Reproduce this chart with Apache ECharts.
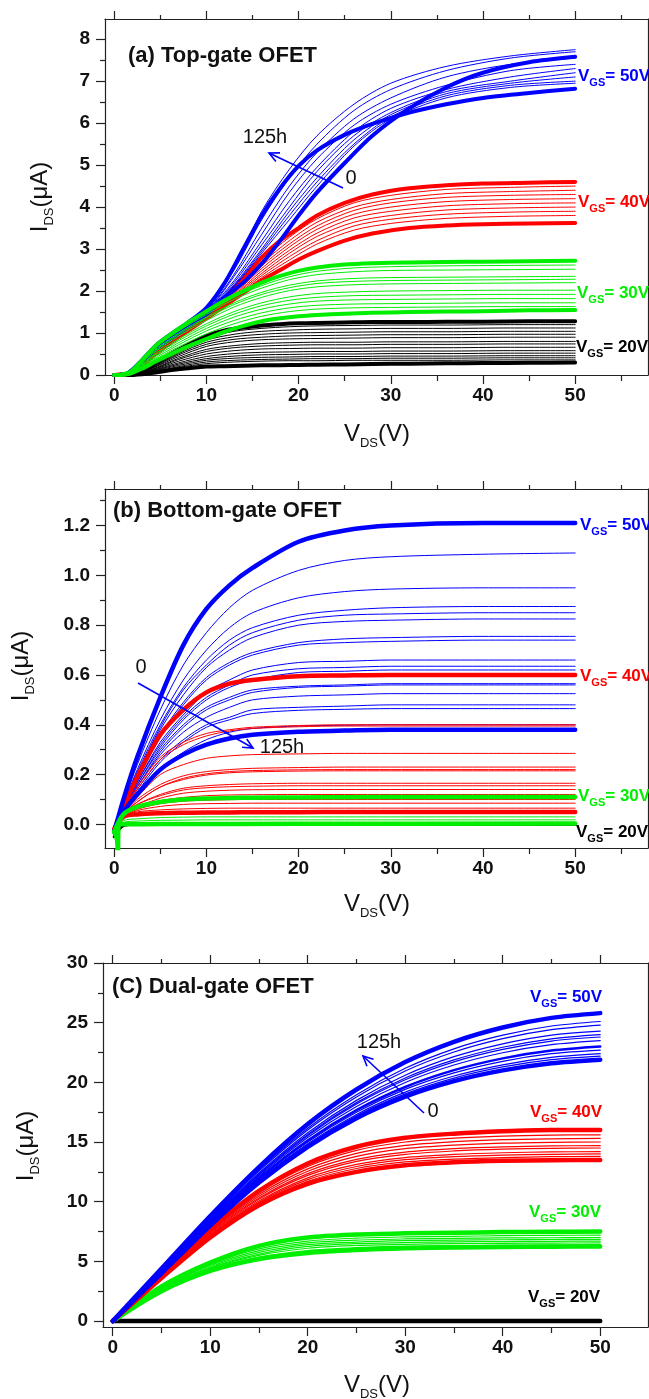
<!DOCTYPE html>
<html>
<head>
<meta charset="utf-8">
<title>OFET output characteristics</title>
<script src="https://cdn.jsdelivr.net/npm/echarts@6/dist/echarts.min.js"></script>
<style>
  html, body { margin: 0; padding: 0; background: #fff; }
  #chart { width: 649px; height: 1399px; }
</style>
</head>
<body>
<div id="chart"></div>
<script>
// ---------- shared ticks ----------
var xTickLabels = [0, 10, 20, 30, 40, 50];
var xMinorTicks = [5, 15, 25, 35, 45, 55];

// ---------- (a) Top-gate OFET ----------
var aYTicks = [0, 1, 2, 3, 4, 5, 6, 7, 8];
var aYMinor = [0.5, 1.5, 2.5, 3.5, 4.5, 5.5, 6.5, 7.5];
var aX = [0, 1.5, 3, 4.5, 6, 8, 10, 12, 14, 16, 18, 20, 22, 25, 28, 32, 36, 40, 45, 50];
var aXThin = [0, 2, 4, 7, 10, 13, 16, 19, 22, 26, 30, 36, 43, 50];
var aBlueThick = [
  [0, 0.05, 0.35, 0.7, 0.95, 1.25, 1.6, 2.2, 3.0, 3.8, 4.45, 4.98, 5.35, 5.72, 5.98, 6.25, 6.45, 6.6, 6.72, 6.82], // 125h
  [0, 0.04, 0.3, 0.62, 0.85, 1.15, 1.45, 1.85, 2.2, 2.65, 3.2, 3.8, 4.35, 5.05, 5.7, 6.35, 6.85, 7.2, 7.45, 7.58]   // 0h
];
var aBlueThin = [
  [0, 0.1, 0.55, 1.1, 1.55, 2.55, 3.9, 4.9, 5.7, 6.45, 6.95, 7.35, 7.6, 7.75],
  [0, 0.1, 0.55, 1.1, 1.55, 2.5, 3.7, 4.7, 5.5, 6.3, 6.8, 7.25, 7.55, 7.7],
  [0, 0.1, 0.54, 1.08, 1.52, 2.4, 3.5, 4.5, 5.3, 6.1, 6.6, 7.1, 7.4, 7.55],
  [0, 0.1, 0.54, 1.07, 1.5, 2.35, 3.35, 4.35, 5.15, 5.95, 6.45, 6.9, 7.25, 7.4],
  [0, 0.09, 0.53, 1.06, 1.5, 2.25, 3.2, 4.15, 4.95, 5.8, 6.35, 6.8, 7.1, 7.3],
  [0, 0.09, 0.52, 1.05, 1.48, 2.2, 3.1, 4.0, 4.85, 5.7, 6.25, 6.75, 7.0, 7.2],
  [0, 0.09, 0.52, 1.04, 1.47, 2.15, 3.0, 3.9, 4.7, 5.6, 6.2, 6.7, 6.95, 7.1],
  [0, 0.08, 0.5, 1.03, 1.46, 2.12, 2.95, 3.8, 4.6, 5.5, 6.15, 6.65, 6.9, 7.0],
  [0, 0.08, 0.5, 1.02, 1.45, 2.1, 2.9, 3.7, 4.5, 5.45, 6.1, 6.6, 6.85, 6.95]
];
var aRedThick = [
  [0, 0.03, 0.25, 0.55, 0.8, 1.1, 1.45, 1.85, 2.3, 2.8, 3.2, 3.5, 3.8, 4.1, 4.3, 4.45, 4.52, 4.56, 4.58, 4.6],
  [0, 0.03, 0.22, 0.5, 0.75, 1.05, 1.35, 1.65, 1.95, 2.25, 2.5, 2.75, 2.95, 3.2, 3.37, 3.5, 3.56, 3.59, 3.61, 3.62]
];
var aRedThin = [
  [0, 0.08, 0.44, 0.95, 1.44, 2.0, 2.72, 3.28, 3.72, 4.1, 4.28, 4.42, 4.47, 4.5],
  [0, 0.08, 0.44, 0.94, 1.43, 1.98, 2.65, 3.2, 3.64, 4.0, 4.18, 4.32, 4.37, 4.4],
  [0, 0.08, 0.43, 0.94, 1.42, 1.96, 2.6, 3.12, 3.55, 3.92, 4.1, 4.23, 4.28, 4.3],
  [0, 0.08, 0.43, 0.93, 1.41, 1.93, 2.54, 3.05, 3.47, 3.83, 4.0, 4.13, 4.18, 4.2],
  [0, 0.07, 0.42, 0.92, 1.4, 1.9, 2.48, 2.97, 3.38, 3.74, 3.9, 4.03, 4.08, 4.1],
  [0, 0.07, 0.42, 0.92, 1.39, 1.88, 2.42, 2.9, 3.3, 3.64, 3.8, 3.93, 3.98, 4.0],
  [0, 0.07, 0.41, 0.91, 1.38, 1.85, 2.37, 2.82, 3.2, 3.55, 3.71, 3.83, 3.88, 3.9],
  [0, 0.07, 0.41, 0.91, 1.37, 1.83, 2.32, 2.74, 3.12, 3.45, 3.61, 3.73, 3.78, 3.8]
];
var aGreenThick = [
  [0, 0.04, 0.35, 0.7, 0.95, 1.25, 1.52, 1.78, 2.0, 2.2, 2.36, 2.48, 2.56, 2.63, 2.66, 2.68, 2.69, 2.7, 2.71, 2.72],
  [0, 0.02, 0.15, 0.32, 0.48, 0.68, 0.86, 1.03, 1.17, 1.28, 1.35, 1.4, 1.43, 1.46, 1.48, 1.5, 1.51, 1.52, 1.54, 1.55]
];
var aGreenThin = [
  [0, 0.14, 0.6, 1.08, 1.48, 1.85, 2.13, 2.34, 2.47, 2.55, 2.58, 2.6, 2.61, 2.62],
  [0, 0.13, 0.57, 1.05, 1.44, 1.8, 2.07, 2.27, 2.39, 2.46, 2.49, 2.5, 2.51, 2.52],
  [0, 0.12, 0.53, 1.0, 1.38, 1.72, 1.97, 2.14, 2.24, 2.3, 2.32, 2.33, 2.34, 2.35],
  [0, 0.12, 0.51, 0.97, 1.35, 1.68, 1.92, 2.08, 2.18, 2.23, 2.25, 2.26, 2.27, 2.28],
  [0, 0.11, 0.48, 0.93, 1.3, 1.62, 1.85, 2.01, 2.1, 2.15, 2.17, 2.18, 2.19, 2.2],
  [0, 0.1, 0.44, 0.86, 1.22, 1.51, 1.72, 1.86, 1.94, 1.98, 2.0, 2.01, 2.02, 2.02],
  [0, 0.09, 0.41, 0.82, 1.17, 1.45, 1.65, 1.78, 1.85, 1.89, 1.9, 1.91, 1.92, 1.92],
  [0, 0.08, 0.38, 0.77, 1.11, 1.38, 1.57, 1.69, 1.76, 1.79, 1.8, 1.81, 1.82, 1.82],
  [0, 0.08, 0.35, 0.72, 1.05, 1.3, 1.48, 1.6, 1.66, 1.69, 1.7, 1.71, 1.72, 1.72],
  [0, 0.07, 0.32, 0.67, 0.98, 1.22, 1.4, 1.51, 1.57, 1.6, 1.61, 1.62, 1.63, 1.63]
];
var aBlackThick = [
  [0, 0.01, 0.08, 0.28, 0.48, 0.72, 0.93, 1.06, 1.13, 1.18, 1.21, 1.23, 1.24, 1.25, 1.26, 1.26, 1.27, 1.27, 1.28, 1.28],
  [0, 0, 0.02, 0.06, 0.11, 0.16, 0.2, 0.21, 0.22, 0.23, 0.235, 0.24, 0.245, 0.25, 0.26, 0.27, 0.28, 0.285, 0.29, 0.3]
];
var aBlackThin = [
  [0, 0.02, 0.19, 0.57, 0.88, 1.04, 1.11, 1.15, 1.17, 1.18, 1.19, 1.19, 1.2, 1.2],
  [0, 0.02, 0.18, 0.54, 0.83, 0.97, 1.04, 1.07, 1.09, 1.1, 1.11, 1.11, 1.12, 1.12],
  [0, 0.02, 0.17, 0.51, 0.78, 0.91, 0.97, 1.0, 1.01, 1.02, 1.03, 1.03, 1.04, 1.04],
  [0, 0.02, 0.16, 0.48, 0.73, 0.85, 0.9, 0.93, 0.94, 0.95, 0.96, 0.96, 0.97, 0.97],
  [0, 0.01, 0.15, 0.44, 0.68, 0.79, 0.84, 0.86, 0.87, 0.88, 0.89, 0.89, 0.9, 0.9],
  [0, 0.01, 0.13, 0.4, 0.61, 0.7, 0.75, 0.77, 0.78, 0.78, 0.79, 0.79, 0.8, 0.8],
  [0, 0.01, 0.12, 0.37, 0.56, 0.65, 0.69, 0.71, 0.72, 0.72, 0.73, 0.73, 0.74, 0.74],
  [0, 0.01, 0.11, 0.33, 0.5, 0.58, 0.62, 0.63, 0.64, 0.64, 0.65, 0.65, 0.66, 0.66],
  [0, 0.01, 0.1, 0.29, 0.44, 0.51, 0.54, 0.55, 0.56, 0.56, 0.57, 0.57, 0.58, 0.58],
  [0, 0.01, 0.09, 0.26, 0.39, 0.45, 0.48, 0.49, 0.5, 0.5, 0.51, 0.51, 0.52, 0.52],
  [0, 0.01, 0.08, 0.23, 0.35, 0.4, 0.42, 0.43, 0.44, 0.44, 0.45, 0.45, 0.46, 0.46],
  [0, 0.01, 0.07, 0.2, 0.31, 0.35, 0.37, 0.38, 0.39, 0.39, 0.4, 0.4, 0.41, 0.41],
  [0, 0, 0.06, 0.18, 0.27, 0.31, 0.33, 0.34, 0.34, 0.35, 0.35, 0.35, 0.36, 0.36]
];

// ---------- (b) Bottom-gate OFET ----------
var bYTicks = [0, 0.2, 0.4, 0.6, 0.8, 1.0, 1.2];
var bYMinor = [0.1, 0.3, 0.5, 0.7, 0.9, 1.1, 1.3];
var bX = [0, 1, 2.5, 5, 7.5, 10, 12.5, 15, 20, 25, 30, 40, 50];
var bBlueThick = [
  [-0.03, 0.1, 0.27, 0.51, 0.72, 0.865, 0.96, 1.03, 1.135, 1.18, 1.2, 1.21, 1.21],
  [-0.03, 0.05, 0.12, 0.22, 0.28, 0.32, 0.345, 0.36, 0.372, 0.377, 0.38, 0.38, 0.38]
];
var bBlueThin = [
  [-0.02, 0.09, 0.24, 0.46, 0.64, 0.77, 0.87, 0.94, 1.02, 1.06, 1.075, 1.085, 1.09],
  [-0.02, 0.08, 0.22, 0.42, 0.58, 0.7, 0.79, 0.85, 0.91, 0.935, 0.945, 0.95, 0.95],
  [-0.02, 0.08, 0.21, 0.4, 0.55, 0.66, 0.74, 0.79, 0.84, 0.86, 0.87, 0.875, 0.875],
  [-0.02, 0.08, 0.2, 0.39, 0.54, 0.64, 0.72, 0.77, 0.82, 0.84, 0.845, 0.85, 0.85],
  [-0.02, 0.07, 0.2, 0.38, 0.52, 0.63, 0.7, 0.75, 0.8, 0.815, 0.82, 0.825, 0.825],
  [-0.02, 0.07, 0.19, 0.36, 0.49, 0.59, 0.65, 0.69, 0.73, 0.745, 0.75, 0.755, 0.755],
  [-0.02, 0.07, 0.18, 0.35, 0.48, 0.58, 0.64, 0.68, 0.72, 0.73, 0.735, 0.74, 0.74],
  [-0.02, 0.07, 0.17, 0.33, 0.44, 0.53, 0.58, 0.62, 0.65, 0.655, 0.66, 0.66, 0.66],
  [-0.02, 0.06, 0.17, 0.32, 0.43, 0.51, 0.56, 0.6, 0.625, 0.63, 0.635, 0.635, 0.635],
  [-0.02, 0.06, 0.16, 0.31, 0.42, 0.5, 0.55, 0.58, 0.61, 0.615, 0.62, 0.62, 0.62],
  [-0.02, 0.06, 0.16, 0.3, 0.4, 0.47, 0.51, 0.54, 0.555, 0.56, 0.565, 0.565, 0.565],
  [-0.02, 0.06, 0.15, 0.29, 0.39, 0.46, 0.5, 0.53, 0.55, 0.555, 0.56, 0.56, 0.56],
  [-0.02, 0.06, 0.15, 0.28, 0.37, 0.43, 0.47, 0.5, 0.515, 0.52, 0.525, 0.525, 0.525],
  [-0.02, 0.05, 0.14, 0.26, 0.34, 0.4, 0.43, 0.46, 0.47, 0.475, 0.48, 0.48, 0.48],
  [-0.02, 0.05, 0.13, 0.25, 0.33, 0.39, 0.42, 0.445, 0.458, 0.462, 0.465, 0.465, 0.465],
  [-0.02, 0.05, 0.12, 0.22, 0.29, 0.34, 0.37, 0.385, 0.395, 0.398, 0.4, 0.4, 0.4]
];
var bRedThick = [
  [-0.02, 0.07, 0.19, 0.36, 0.46, 0.53, 0.565, 0.58, 0.595, 0.598, 0.6, 0.6, 0.6],
  [-0.02, 0.03, 0.04, 0.045, 0.047, 0.048, 0.048, 0.049, 0.049, 0.05, 0.05, 0.05, 0.05]
];
var bRedThin = [
  [-0.02, 0.06, 0.15, 0.27, 0.33, 0.365, 0.38, 0.39, 0.397, 0.4, 0.4, 0.4, 0.4],
  [-0.02, 0.06, 0.14, 0.26, 0.32, 0.355, 0.375, 0.385, 0.392, 0.395, 0.395, 0.395, 0.395],
  [-0.02, 0.05, 0.11, 0.2, 0.24, 0.265, 0.275, 0.28, 0.283, 0.285, 0.285, 0.285, 0.285],
  [-0.02, 0.04, 0.1, 0.16, 0.195, 0.212, 0.22, 0.225, 0.228, 0.23, 0.23, 0.23, 0.23],
  [-0.02, 0.04, 0.09, 0.15, 0.185, 0.203, 0.212, 0.216, 0.219, 0.22, 0.22, 0.22, 0.22],
  [-0.02, 0.04, 0.09, 0.15, 0.18, 0.198, 0.207, 0.211, 0.214, 0.215, 0.215, 0.215, 0.215],
  [-0.02, 0.04, 0.08, 0.12, 0.145, 0.155, 0.16, 0.163, 0.165, 0.165, 0.165, 0.165, 0.165],
  [-0.02, 0.04, 0.08, 0.115, 0.138, 0.147, 0.151, 0.153, 0.155, 0.155, 0.155, 0.155, 0.155],
  [-0.02, 0.04, 0.07, 0.105, 0.125, 0.133, 0.137, 0.139, 0.14, 0.14, 0.14, 0.14, 0.14],
  [-0.02, 0.03, 0.07, 0.095, 0.108, 0.115, 0.118, 0.119, 0.12, 0.12, 0.12, 0.12, 0.12],
  [-0.02, 0.03, 0.06, 0.083, 0.093, 0.097, 0.099, 0.1, 0.1, 0.1, 0.1, 0.1, 0.1],
  [-0.02, 0.03, 0.055, 0.072, 0.08, 0.083, 0.084, 0.085, 0.085, 0.085, 0.085, 0.085, 0.085],
  [-0.02, 0.03, 0.05, 0.058, 0.062, 0.064, 0.065, 0.065, 0.065, 0.065, 0.065, 0.065, 0.065]
];
var bGreenThick = [
  [-0.03, 0.04, 0.07, 0.09, 0.1, 0.104, 0.106, 0.107, 0.108, 0.109, 0.11, 0.11, 0.11]
];
var bGreenThin = [
  [-0.02, 0.015, 0.022, 0.027, 0.029, 0.03, 0.03, 0.03, 0.03, 0.03, 0.03, 0.03, 0.03],
  [-0.02, 0.008, 0.013, 0.016, 0.017, 0.018, 0.018, 0.018, 0.018, 0.018, 0.018, 0.018, 0.018]
];
var bGreenLowX = [0, 0.3, 0.4, 0.5, 1, 5, 20, 50];
var bGreenLow = [-0.03, -0.06, -0.12, 0.0, 0.0, 0.001, 0.002, 0.003];
var bBlack = [-0.05, -0.005, 0, 0, 0, 0, 0, 0, 0, 0, 0, 0, 0];

// ---------- (c) Dual-gate OFET ----------
var cYTicks = [0, 5, 10, 15, 20, 25, 30];
var cYMinor = [2.5, 7.5, 12.5, 17.5, 22.5, 27.5];
var cX = [0, 5, 10, 15, 20, 25, 30, 35, 40, 45, 50];
var cBlueThick = [
  [0, 4.4, 8.8, 12.9, 16.5, 19.4, 21.7, 23.4, 24.6, 25.4, 25.8],
  [0, 4.0, 8.0, 11.6, 14.6, 17.0, 18.8, 20.1, 21.0, 21.6, 21.9]
];
var cBlueMid = [
  [0, 4.11, 8.22, 11.96, 15.13, 17.67, 19.61, 21.02, 22.01, 22.66, 23.0]
];
var cBlueThin = [
  [0, 4.33, 8.66, 12.67, 16.16, 18.97, 21.18, 22.81, 23.95, 24.72, 25.1],
  [0, 4.3, 8.59, 12.56, 16.01, 18.78, 20.95, 22.54, 23.66, 24.41, 24.8],
  [0, 4.25, 8.5, 12.4, 15.78, 18.49, 20.6, 22.15, 23.23, 23.96, 24.3],
  [0, 4.22, 8.43, 12.3, 15.63, 18.3, 20.37, 21.88, 22.94, 23.65, 24.0],
  [0, 4.2, 8.39, 12.24, 15.53, 18.18, 20.22, 21.72, 22.76, 23.46, 23.8],
  [0, 4.16, 8.33, 12.13, 15.38, 17.98, 19.99, 21.45, 22.48, 23.16, 23.5],
  [0, 4.08, 8.17, 11.87, 15.0, 17.5, 19.41, 20.79, 21.76, 22.4, 22.7],
  [0, 4.05, 8.1, 11.77, 14.85, 17.31, 19.18, 20.53, 21.47, 22.09, 22.4],
  [0, 4.03, 8.06, 11.7, 14.75, 17.19, 19.03, 20.36, 21.29, 21.9, 22.2]
];
var cRedThick = [
  [0, 3.9, 7.7, 10.9, 13.2, 14.6, 15.35, 15.7, 15.9, 16.0, 16.0],
  [0, 3.6, 7.0, 9.7, 11.5, 12.5, 13.05, 13.3, 13.42, 13.47, 13.5]
];
var cRedThin = [
  [0, 3.85, 7.62, 10.75, 12.95, 14.3, 15.0, 15.32, 15.5, 15.58, 15.6],
  [0, 3.8, 7.55, 10.6, 12.75, 14.05, 14.72, 15.03, 15.2, 15.27, 15.3],
  [0, 3.78, 7.48, 10.45, 12.55, 13.8, 14.44, 14.74, 14.9, 14.97, 15.0],
  [0, 3.75, 7.4, 10.3, 12.35, 13.55, 14.16, 14.45, 14.6, 14.67, 14.7],
  [0, 3.72, 7.33, 10.2, 12.2, 13.38, 13.97, 14.25, 14.4, 14.47, 14.5],
  [0, 3.68, 7.24, 10.05, 12.0, 13.12, 13.7, 13.96, 14.1, 14.17, 14.2],
  [0, 3.66, 7.17, 9.95, 11.85, 12.95, 13.52, 13.77, 13.9, 13.97, 14.0],
  [0, 3.63, 7.1, 9.85, 11.7, 12.78, 13.33, 13.57, 13.7, 13.77, 13.8]
];
var cGreenThick = [
  [0, 2.9, 4.9, 6.3, 7.0, 7.25, 7.35, 7.4, 7.45, 7.48, 7.5],
  [0, 2.5, 4.2, 5.2, 5.7, 5.95, 6.1, 6.17, 6.21, 6.23, 6.25]
];
var cGreenThin = [
  [0, 2.8, 4.75, 6.05, 6.7, 6.95, 7.05, 7.1, 7.15, 7.18, 7.2],
  [0, 2.75, 4.65, 5.9, 6.55, 6.78, 6.88, 6.93, 6.96, 6.98, 7.0],
  [0, 2.7, 4.55, 5.75, 6.4, 6.62, 6.73, 6.78, 6.81, 6.83, 6.85],
  [0, 2.65, 4.45, 5.6, 6.25, 6.48, 6.58, 6.63, 6.66, 6.68, 6.7],
  [0, 2.6, 4.4, 5.5, 6.1, 6.33, 6.43, 6.48, 6.51, 6.53, 6.55],
  [0, 2.55, 4.3, 5.35, 5.9, 6.15, 6.27, 6.33, 6.36, 6.38, 6.4]
];
var cBlack = [0, 0, 0, 0, 0, 0, 0, 0, 0, 0, 0];

// ---------- style ----------
var FONT = '"Liberation Sans", Arial, sans-serif';
var BLUE = '#0000ff', RED = '#ff0000', GREEN = '#00ee00', BLACK = '#000000';
var FRAME = '#222';

var grids = [
  { left: 105, top: 19, width: 543, height: 356 },
  { left: 105, top: 489, width: 543, height: 359 },
  { left: 103, top: 963, width: 545, height: 364 }
];
var xRanges = [[-1, 57.9], [-1, 57.9], [-1, 54.9]];
var yRanges = [[0, 8.48], [-0.095, 1.347], [-0.5, 30]];
var yTickSets = [aYTicks, bYTicks, cYTicks];
var yMinorSets = [aYMinor, bYMinor, cYMinor];
var yFormat = [
  function (v) { return String(v); },
  function (v) { return v.toFixed(1); },
  function (v) { return String(v); }
];

var xAxes = [], yAxes = [];
grids.forEach(function (g, p) {
  var xmin = xRanges[p][0], xmax = xRanges[p][1];
  var minor = xMinorTicks.filter(function (v) { return v <= xmax; });
  var base = { gridIndex: p, type: 'value', min: xmin, max: xmax, splitLine: { show: false } };
  xAxes.push(Object.assign({}, base, {
    position: 'bottom',
    axisLine: { show: true, onZero: false, lineStyle: { color: FRAME, width: 1.2 } },
    axisTick: { show: true, length: 9, customValues: xTickLabels, lineStyle: { color: FRAME, width: 1.2 } },
    axisLabel: { show: true, customValues: xTickLabels, margin: 11, fontSize: 19, fontWeight: 'bold', fontFamily: FONT, color: '#111' }
  }));
  xAxes.push(Object.assign({}, base, {
    position: 'bottom',
    axisLine: { show: false, onZero: false },
    axisTick: { show: true, length: 6, customValues: minor, lineStyle: { color: FRAME, width: 1.2 } },
    axisLabel: { show: false }
  }));
  xAxes.push(Object.assign({}, base, {
    position: 'top',
    axisLine: { show: true, onZero: false, lineStyle: { color: FRAME, width: 1.2 } },
    axisTick: { show: true, length: 8, customValues: xTickLabels, lineStyle: { color: FRAME, width: 1.2 } },
    axisLabel: { show: false }
  }));
  xAxes.push(Object.assign({}, base, {
    position: 'top',
    axisLine: { show: false, onZero: false },
    axisTick: { show: true, length: 4, customValues: minor, lineStyle: { color: FRAME, width: 1.2 } },
    axisLabel: { show: false }
  }));

  var ymin = yRanges[p][0], ymax = yRanges[p][1];
  var ybase = { gridIndex: p, type: 'value', min: ymin, max: ymax, splitLine: { show: false } };
  yAxes.push(Object.assign({}, ybase, {
    position: 'left',
    axisLine: { show: true, onZero: false, lineStyle: { color: FRAME, width: 1.2 } },
    axisTick: { show: true, length: 9, customValues: yTickSets[p], lineStyle: { color: FRAME, width: 1.2 } },
    axisLabel: { show: true, customValues: yTickSets[p], formatter: yFormat[p], margin: 15, fontSize: 19, fontWeight: 'bold', fontFamily: FONT, color: '#111' }
  }));
  yAxes.push(Object.assign({}, ybase, {
    position: 'left',
    axisLine: { show: false, onZero: false },
    axisTick: { show: true, length: 5, customValues: yMinorSets[p], lineStyle: { color: FRAME, width: 1.2 } },
    axisLabel: { show: false }
  }));
  yAxes.push(Object.assign({}, ybase, {
    position: 'right',
    axisLine: { show: true, onZero: false, lineStyle: { color: FRAME, width: 1.2 } },
    axisTick: { show: false },
    axisLabel: { show: false }
  }));
});

var series = [];
function addCurves(p, xs, rows, color, width) {
  rows.forEach(function (r) {
    series.push({
      type: 'line',
      xAxisIndex: 4 * p,
      yAxisIndex: 3 * p,
      data: xs.map(function (x, i) { return [x, r[i]]; }),
      showSymbol: false,
      smooth: 0.3,
      silent: true,
      lineStyle: { color: color, width: width, cap: 'round', join: 'round' }
    });
  });
}

// (a) draw order: black, red, blue, green
addCurves(0, aXThin, aBlackThin, BLACK, 1);
addCurves(0, aX, aBlackThick, BLACK, 4);
addCurves(0, aXThin, aRedThin, RED, 1);
addCurves(0, aX, aRedThick, RED, 4);
addCurves(0, aXThin, aBlueThin, BLUE, 1);
addCurves(0, aX, aBlueThick, BLUE, 4);
addCurves(0, aXThin, aGreenThin, GREEN, 1);
addCurves(0, aX, aGreenThick, GREEN, 4);

// (b)
addCurves(1, bX, [bBlack], BLACK, 3);
addCurves(1, bX, bBlueThin, BLUE, 1);
addCurves(1, bX, bRedThin, RED, 1);
addCurves(1, bX, bRedThick, RED, 4.5);
addCurves(1, bX, bBlueThick, BLUE, 4.5);
addCurves(1, bX, bGreenThin, GREEN, 1);
addCurves(1, bX, bGreenThick, GREEN, 4.5);
addCurves(1, bGreenLowX, [bGreenLow], GREEN, 4.5);

// (c)
addCurves(2, cX, [cBlack], BLACK, 4.5);
addCurves(2, cX, cGreenThin, GREEN, 1.2);
addCurves(2, cX, cGreenThick, GREEN, 4.5);
addCurves(2, cX, cRedThin, RED, 1.2);
addCurves(2, cX, cRedThick, RED, 4.5);
addCurves(2, cX, cBlueThin, BLUE, 1.2);
addCurves(2, cX, cBlueMid, BLUE, 2.5);
addCurves(2, cX, cBlueThick, BLUE, 4.5);

// ---------- text helpers ----------
function subText(x, y, main, sub, tail, color, big, small, lh, weight, align, rotation) {
  return {
    type: 'text',
    x: x, y: y,
    rotation: rotation || 0,
    silent: true,
    z: 100,
    style: {
      text: '{m|' + main + '}{s|' + sub + '}{m|' + tail + '}',
      align: align || 'left',
      verticalAlign: 'middle',
      rich: {
        m: { fontSize: big, fontWeight: weight, fontFamily: FONT, fill: color, lineHeight: lh },
        s: { fontSize: small, fontWeight: weight, fontFamily: FONT, fill: color, lineHeight: small, verticalAlign: 'bottom' }
      }
    }
  };
}
function plainText(x, y, text, size, weight, color) {
  return {
    type: 'text', x: x, y: y, silent: true, z: 100,
    style: { text: text, fontSize: size, fontWeight: weight, fontFamily: FONT, fill: color, align: 'left', verticalAlign: 'middle' }
  };
}
function centerText(x, y, text, size, color) {
  return {
    type: 'text', x: x, y: y, silent: true, z: 100,
    style: { text: text, fontSize: size, fontFamily: FONT, fill: color, align: 'center', verticalAlign: 'middle' }
  };
}
function arrow(x1, y1, x2, y2) {
  var a = Math.atan2(y2 - y1, x2 - x1), L = 11, w = 0.45;
  return [
    { type: 'line', silent: true, z: 100, shape: { x1: x1, y1: y1, x2: x2, y2: y2 }, style: { stroke: BLUE, lineWidth: 1.6 } },
    { type: 'polyline', silent: true, z: 100,
      shape: { points: [[x2 - L * Math.cos(a - w), y2 - L * Math.sin(a - w)], [x2, y2], [x2 - L * Math.cos(a + w), y2 - L * Math.sin(a + w)]] },
      style: { stroke: BLUE, lineWidth: 1.6, fill: null } }
  ];
}

var graphics = [
  // panel titles
  plainText(128, 56, '(a) Top-gate OFET', 22, 'bold', '#111'),
  plainText(113, 511, '(b) Bottom-gate OFET', 22, 'bold', '#111'),
  plainText(112, 987, '(C) Dual-gate OFET', 22, 'bold', '#111'),
  // axis titles
  subText(40, 197, 'I', 'DS', '(μA)', '#111', 24, 13, 31, 'normal', 'center', Math.PI / 2),
  subText(21, 666, 'I', 'DS', '(μA)', '#111', 24, 13, 31, 'normal', 'center', Math.PI / 2),
  subText(26, 1146, 'I', 'DS', '(μA)', '#111', 24, 13, 31, 'normal', 'center', Math.PI / 2),
  subText(377, 434, 'V', 'DS', '(V)', '#111', 24, 13, 31, 'normal', 'center'),
  subText(377, 904, 'V', 'DS', '(V)', '#111', 24, 13, 31, 'normal', 'center'),
  subText(377, 1385, 'V', 'DS', '(V)', '#111', 24, 13, 31, 'normal', 'center'),
  // VGS labels (a)
  subText(578, 76, 'V', 'GS', '= 50V', BLUE, 17, 11, 25, 'bold'),
  subText(578, 202, 'V', 'GS', '= 40V', RED, 17, 11, 25, 'bold'),
  subText(577, 293, 'V', 'GS', '= 30V', GREEN, 17, 11, 25, 'bold'),
  subText(576, 347, 'V', 'GS', '= 20V', BLACK, 17, 11, 25, 'bold'),
  // VGS labels (b)
  subText(580, 525, 'V', 'GS', '= 50V', BLUE, 17, 11, 25, 'bold'),
  subText(580, 676, 'V', 'GS', '= 40V', RED, 17, 11, 25, 'bold'),
  subText(578, 796, 'V', 'GS', '= 30V', GREEN, 17, 11, 25, 'bold'),
  subText(576, 832, 'V', 'GS', '= 20V', BLACK, 17, 11, 25, 'bold'),
  // VGS labels (c)
  subText(530, 997, 'V', 'GS', '= 50V', BLUE, 17, 11, 25, 'bold'),
  subText(530, 1112, 'V', 'GS', '= 40V', RED, 17, 11, 25, 'bold'),
  subText(529, 1212, 'V', 'GS', '= 30V', GREEN, 17, 11, 25, 'bold'),
  subText(528, 1297, 'V', 'GS', '= 20V', BLACK, 17, 11, 25, 'bold'),
  // arrow annotations
  centerText(265, 137, '125h', 20, '#111'),
  centerText(351, 178, '0', 20, '#111'),
  centerText(141, 667, '0', 20, '#111'),
  centerText(282, 747, '125h', 20, '#111'),
  centerText(379, 1042, '125h', 20, '#111'),
  centerText(433, 1111, '0', 20, '#111')
].concat(
  arrow(343, 188, 269, 153),
  arrow(138, 683, 253, 748),
  arrow(424, 1113, 363, 1056)
);

var chart = echarts.init(document.getElementById('chart'), null, { renderer: 'canvas' });
chart.setOption({
  animation: false,
  backgroundColor: '#fff',
  textStyle: { fontFamily: FONT },
  grid: grids,
  xAxis: xAxes,
  yAxis: yAxes,
  series: series,
  graphic: graphics
});
</script>
</body>
</html>
